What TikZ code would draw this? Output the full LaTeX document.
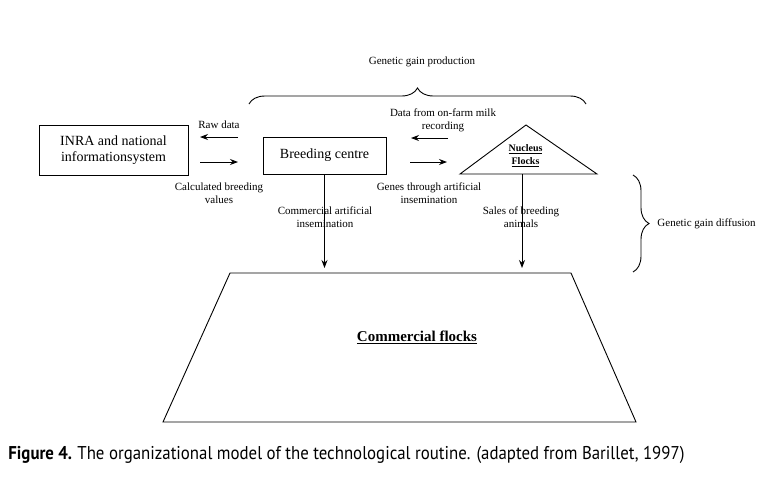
\documentclass[tikz,border=0pt]{standalone}
\usepackage{fontspec}
\setmainfont{Liberation Serif}
\newfontfamily\capfont{PT Sans}
\usetikzlibrary{arrows.meta,decorations.pathreplacing,calc}
\begin{document}
\begin{tikzpicture}[x=1pt,y=-1pt,
  line width=0.9pt,
  boxed/.style={draw,rectangle,inner sep=0pt,align=center,font=\fontsize{14}{16}\selectfont},
  small/.style={align=center,inner sep=0pt,font=\fontsize{11}{13}\selectfont},
  arr/.style={-{Stealth[length=8pt,width=6pt]}},
  brc/.style={decorate,decoration={brace,amplitude=16pt}}]
\useasboundingbox (0,0) rectangle (760,483);
% INRA box
\node[boxed,minimum width=149pt,minimum height=50pt] (inra) at (113.5,150) {INRA and national\\informationsystem};
% Breeding centre
\node[boxed,minimum width=123pt,minimum height=37pt] (bc) at (324.5,155.5) {Breeding centre};
% Nucleus triangle
\coordinate (tA) at (526,125);
\coordinate (tL) at (460,174);
\coordinate (tR) at (597,174);
\draw (tA) -- (tL) -- (tR) -- cycle;
\node[align=center,inner sep=0pt,font=\bfseries\fontsize{10}{13}\selectfont] (nuc) at (525.5,156) {\underline{Nucleus}\\\underline{Flocks}};
\coordinate (nucb) at (522,174);
% Commercial flocks trapezoid
\coordinate (q1) at (230,273);
\coordinate (q2) at (571,273);
\coordinate (q3) at (636,422);
\coordinate (q4) at (163,422);
\draw (q1) -- (q2) -- (q3) -- (q4) -- cycle;
\node[font=\bfseries\fontsize{15}{17}\selectfont,inner sep=0pt] (cf) at (417,337) {\underline{Commercial flocks}};
% arrows between INRA and BC
\coordinate (a1s) at (238,137); \coordinate (a1e) at (200,137);
\coordinate (a2s) at (200,162); \coordinate (a2e) at (238,162);
\draw[arr] (a1s) -- (a1e);
\draw[arr] (a2s) -- (a2e);
\node[small] (raw) at (219,125) {Raw data};
\node[small] (calc) at (219,193.5) {Calculated breeding\\values};
% arrows between BC and nucleus
\coordinate (b1s) at (448,138); \coordinate (b1e) at (411,138);
\coordinate (b2s) at (410,162); \coordinate (b2e) at (447,162);
\draw[arr] (b1s) -- (b1e);
\draw[arr] (b2s) -- (b2e);
\node[small] (data) at (443,120) {Data from on-farm milk\\recording};
\node[small] (genes) at (429,193.5) {Genes through artificial\\insemination};
% vertical arrows
\coordinate (v1e) at (324.5,268);
\coordinate (v2e) at (522,268);
\draw[arr] (bc.south) -- (v1e);
\draw[arr] (nucb) -- (v2e);
\node[small] (cai) at (325,217) {Commercial artificial\\insemination};
\node[small] (sba) at (521,217) {Sales of breeding\\animals};
% braces
\coordinate (br1s) at (249,104); \coordinate (br1e) at (586,104);
\draw[brc] (br1s) -- (br1e);
\node[small] (ggp) at (422,62) {Genetic gain production};
\coordinate (br2s) at (633,175); \coordinate (br2e) at (633,272);
\draw[brc] (br2s) -- (br2e);
\node[small,anchor=west] (ggd) at (657,224) {Genetic gain diffusion};
% caption
\node[anchor=west,inner sep=0pt,xscale=0.91,transform shape,font=\capfont\fontsize{18.5}{20}\selectfont] (cap) at (8,455) {\textbf{Figure 4.}\hspace{6pt}The organizational model of the technological routine. (adapted from Barillet, 1997)};
\end{tikzpicture}
\end{document}
